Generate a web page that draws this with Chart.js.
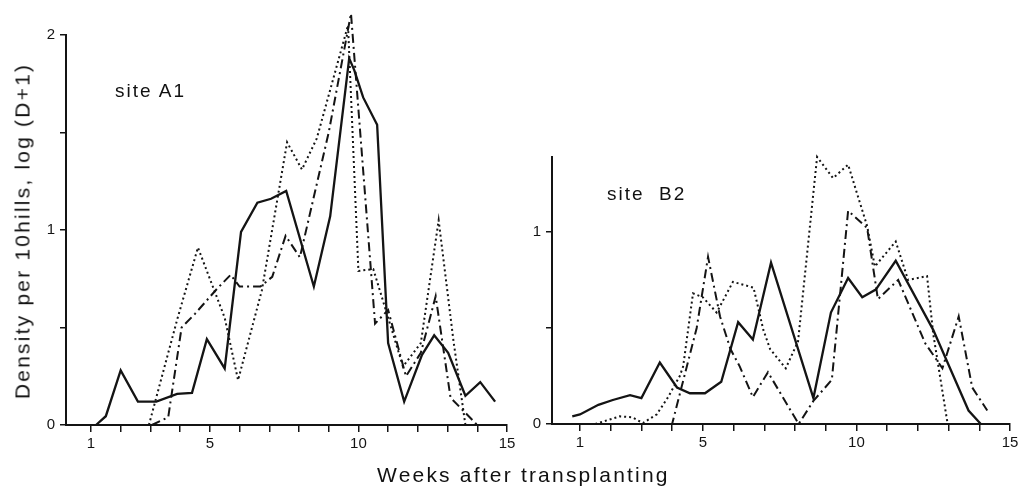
<!DOCTYPE html>
<html>
<head>
<meta charset="utf-8">
<script src="https://cdn.jsdelivr.net/npm/chart.js@4/dist/chart.umd.min.js"></script>
<style>
  body { margin: 0; background: #fff; width: 1025px; height: 494px; overflow: hidden; position: relative;
         font-family: "Liberation Sans", Arial, Helvetica, sans-serif; color: #111; }
  .panel { position: absolute; top: 0; }
  #panelA { left: 0; width: 520px; height: 494px; }
  #panelB { left: 520px; width: 505px; height: 494px; }
  .txt { position: absolute; white-space: nowrap; line-height: 1; }
  #ytitle { left: 22px; top: 231px; font-size: 21px; letter-spacing: 2.2px;
            transform: translate(-50%, -50%) rotate(-90deg); }
  #xtitle { left: 377px; top: 464px; font-size: 21px; letter-spacing: 2.2px; }
  #siteA { left: 115px; top: 81px; font-size: 19px; letter-spacing: 2px; }
  #siteB { left: 607px; top: 184px; font-size: 19px; letter-spacing: 2px; }
</style>
</head>
<body>
<div class="panel" id="panelA"><canvas id="chartA" width="520" height="494"></canvas></div>
<div class="panel" id="panelB"><canvas id="chartB" width="505" height="494"></canvas></div>
<div class="txt" id="ytitle">Density per 10hills, log (D+1)</div>
<div class="txt" id="xtitle">Weeks after transplanting</div>
<div class="txt" id="siteA">site A1</div>
<div class="txt" id="siteB">site&nbsp; B2</div>

<script>
// Weekly tick positions and which of them carry a number
const WEEK_TICKS = [1, 2, 3, 4, 5, 6, 7, 8, 9, 10, 11, 12, 13, 14, 15];
const WEEK_LABELS = [1, 5, 10, 15];
const DENSITY_TICKS_A1 = [0, 0.5, 1, 1.5, 2];
const DENSITY_TICKS_B2 = [0, 0.5, 1];
const DENSITY_LABELS = [0, 1, 2];

// Site A1 — three sampling series, log(D+1) per 10 hills
const A1_SOLID_WEEKS = [1.17, 1.5, 2.0, 2.58, 3.2, 3.9, 4.4, 4.9, 5.5, 6.05, 6.6, 7.06, 7.57, 8.5, 9.05,
                        9.69, 9.86, 10.16, 10.63, 11.0, 11.54, 12.14, 12.55, 13.02, 13.6, 14.1, 14.6];
const A1_SOLID = [0, 0.045, 0.28, 0.12, 0.12, 0.16, 0.165, 0.44, 0.29, 0.99, 1.14, 1.16, 1.2, 0.71, 1.07,
                  1.88, 1.82, 1.68, 1.54, 0.42, 0.12, 0.36, 0.46, 0.37, 0.15, 0.22, 0.12];

const A1_DASHED_WEEKS = [3.05, 3.6, 4.05, 4.5, 5.25, 5.7, 6.0, 6.7, 7.1, 7.55, 8.03, 9.0, 9.75,
                         10.56, 11.0, 11.6, 12.1, 12.6, 13.1, 14.0];
const A1_DASHED = [0, 0.04, 0.5, 0.57, 0.7, 0.77, 0.71, 0.71, 0.76, 0.97, 0.86, 1.5, 2.11,
                   0.52, 0.59, 0.25, 0.37, 0.66, 0.14, 0];

const A1_DOTTED_WEEKS = [2.95, 3.9, 4.6, 5.5, 5.95, 6.75, 7.6, 8.1, 8.6, 9.65, 10.0, 10.5,
                         11.5, 12.1, 12.7, 13.2, 13.6];
const A1_DOTTED = [0, 0.54, 0.91, 0.55, 0.23, 0.69, 1.45, 1.31, 1.47, 2.05, 0.79, 0.8,
                   0.3, 0.42, 1.05, 0.43, 0];

// Site B2
const B2_SOLID_WEEKS = [0.75, 1.0, 1.6, 2.07, 2.63, 3.0, 3.6, 4.16, 4.58, 5.07, 5.6, 6.15, 6.63, 7.22,
                        8.6, 9.17, 9.73, 10.19, 10.63, 11.28, 12.5, 13.65, 14.05];
const B2_SOLID = [0.04, 0.05, 0.1, 0.125, 0.15, 0.135, 0.32, 0.19, 0.16, 0.16, 0.22, 0.53, 0.44, 0.84,
                  0.135, 0.58, 0.76, 0.66, 0.7, 0.85, 0.49, 0.07, 0];

const B2_DASHED_WEEKS = [3.3, 4.0, 4.8, 5.17, 5.56, 5.9, 6.2, 6.63, 7.12, 8.12, 8.6, 9.2, 9.73,
                         10.35, 10.7, 11.36, 12.24, 12.8, 13.33, 13.77, 14.26];
const B2_DASHED = [0, 0, 0.5, 0.87, 0.56, 0.39, 0.3, 0.14, 0.27, 0, 0.12, 0.23, 1.11,
                   1.02, 0.65, 0.75, 0.42, 0.29, 0.56, 0.19, 0.07];

const B2_DOTTED_WEEKS = [1.5, 2.3, 2.7, 3.05, 3.5, 3.87, 4.25, 4.36, 4.68, 5.0, 5.45, 5.98, 6.65, 6.97,
                         7.19, 7.7, 8.1, 8.72, 9.24, 9.73, 10.35, 10.6, 11.28, 11.68, 12.3, 12.5, 12.97];
const B2_DOTTED = [0, 0.04, 0.035, 0.005, 0.05, 0.14, 0.25, 0.3, 0.68, 0.66, 0.58, 0.74, 0.71, 0.49,
                   0.39, 0.29, 0.43, 1.39, 1.28, 1.35, 1.03, 0.82, 0.95, 0.75, 0.77, 0.47, 0];

const INK = '#141414';
const FONT = '"Liberation Sans", Arial, Helvetica, sans-serif';

function points(weeks, values) {
  return weeks.map((w, i) => ({ x: w, y: values[i] }));
}

function series(weeks, values, dash, width) {
  return {
    data: points(weeks, values),
    borderColor: INK,
    borderWidth: width,
    borderDash: dash,
    borderCapStyle: 'butt',
    borderJoinStyle: 'miter',
    pointRadius: 0,
    tension: 0,
    fill: false,
    clip: false
  };
}

function panelOptions(p) {
  return {
    responsive: false,
    animation: false,
    events: [],
    layout: { padding: { left: 0, top: p.top, right: p.right, bottom: 0 } },
    plugins: { legend: { display: false }, tooltip: { enabled: false } },
    scales: {
      x: {
        type: 'linear',
        min: p.xMin,
        max: 15,
        afterBuildTicks: s => { s.ticks = WEEK_TICKS.map(v => ({ value: v })); },
        afterFit: s => { s.height = p.xHeight; },
        grid: { display: true, drawOnChartArea: false, drawTicks: true, tickLength: 7, color: INK, lineWidth: 1.5 },
        border: { display: true, color: INK, width: 2 },
        ticks: {
          autoSkip: false, maxRotation: 0, padding: 3, color: INK,
          font: { family: FONT, size: 15 },
          callback: v => WEEK_LABELS.includes(v) ? String(v) : ''
        }
      },
      y: {
        type: 'linear',
        min: 0,
        max: p.yMax,
        afterBuildTicks: s => { s.ticks = p.yTicks.map(v => ({ value: v })); },
        afterFit: s => { s.width = p.yWidth; },
        grid: { display: true, drawOnChartArea: false, drawTicks: true, tickLength: 6, color: INK, lineWidth: 1.5 },
        border: { display: true, color: INK, width: 2 },
        ticks: {
          autoSkip: false, padding: 5, color: INK,
          font: { family: FONT, size: 15 },
          callback: v => DENSITY_LABELS.includes(v) ? String(v) : ''
        }
      }
    }
  };
}

new Chart(document.getElementById('chartA'), {
  type: 'line',
  data: {
    datasets: [
      series(A1_SOLID_WEEKS, A1_SOLID, [], 2.3),
      series(A1_DASHED_WEEKS, A1_DASHED, [9, 4, 2, 4], 2),
      series(A1_DOTTED_WEEKS, A1_DOTTED, [2, 3], 2)
    ]
  },
  options: panelOptions({ top: 35, right: 13, xMin: 0.16, xHeight: 69, yMax: 2, yWidth: 66, yTicks: DENSITY_TICKS_A1 })
});

new Chart(document.getElementById('chartB'), {
  type: 'line',
  data: {
    datasets: [
      series(B2_SOLID_WEEKS, B2_SOLID, [], 2.3),
      series(B2_DASHED_WEEKS, B2_DASHED, [9, 4, 2, 4], 2),
      series(B2_DOTTED_WEEKS, B2_DOTTED, [2, 3], 2)
    ]
  },
  options: panelOptions({ top: 157, right: 15, xMin: 0.09, xHeight: 70, yMax: 1.39, yWidth: 32, yTicks: DENSITY_TICKS_B2 })
});
</script>
</body>
</html>
